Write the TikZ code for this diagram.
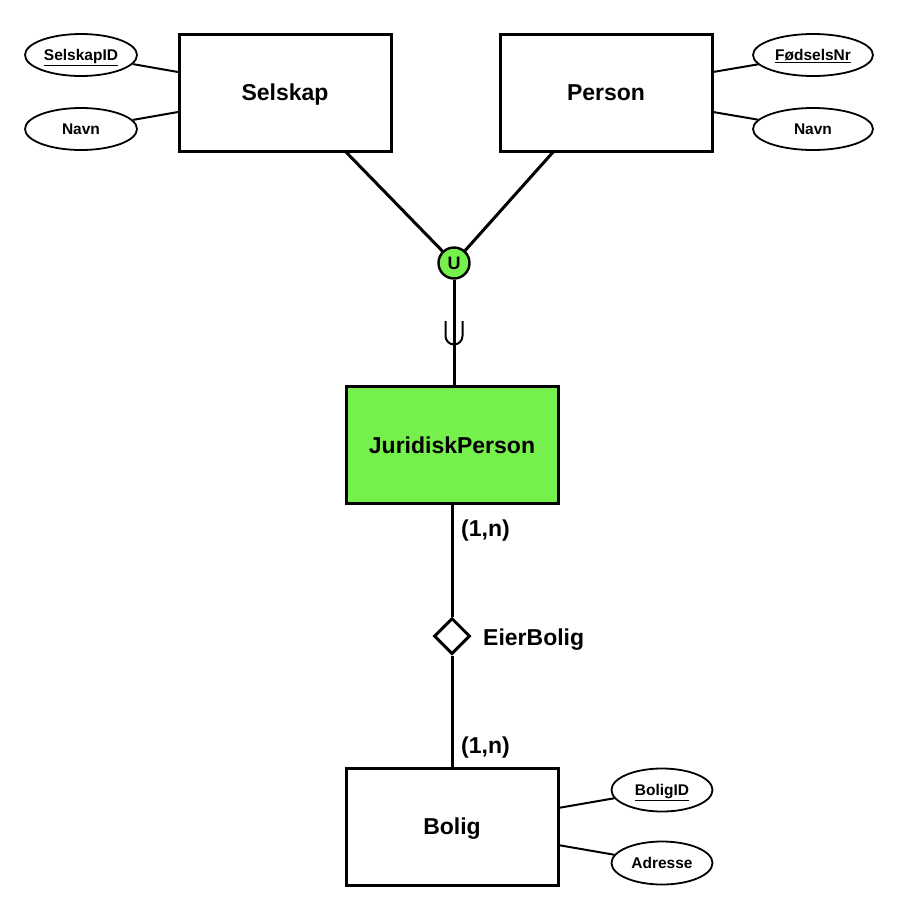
\documentclass[tikz,border=0pt]{standalone}
\usepackage{fontspec}
\setmainfont{Liberation Sans}
\usetikzlibrary{shapes.geometric}
\definecolor{erGreen}{RGB}{118,240,77}
\begin{document}
\begin{tikzpicture}[x=1pt,y=-1pt,
  entity/.style={draw,line width=3pt,minimum width=212pt,minimum height=117pt,inner sep=0pt,text height=16.5pt,text depth=0pt,font=\bfseries\fontsize{23}{27}\selectfont},
  attr/.style={draw,ellipse,line width=1.8pt,inner sep=0pt,text height=11.1pt,text depth=0pt,font=\bfseries\fontsize{15.5}{18}\selectfont},
  conn/.style={line width=3pt},
  aconn/.style={line width=2pt},
  lbl/.style={font=\bfseries\fontsize{23}{27}\selectfont,inner sep=0pt,text height=16.5pt,text depth=0pt}]
\useasboundingbox (0,0) rectangle (910,914);
\node[entity] (sel) at (285,92.5) {Selskap};
\node[entity] (per) at (606,92.5) {Person};
\node[entity,fill=erGreen] (jur) at (452,445) {JuridiskPerson};
\node[entity] (bol) at (452,826.5) {Bolig};
\node[attr,minimum width=112pt,minimum height=42pt] (sid) at (81,55) {\underline{SelskapID}};
\node[attr,minimum width=112pt,minimum height=42pt] (snavn) at (81,129) {Navn};
\node[attr,minimum width=120pt,minimum height=42pt] (fnr) at (813,55) {\underline{FødselsNr}};
\node[attr,minimum width=120pt,minimum height=42pt] (pnavn) at (813,129) {Navn};
\node[attr,minimum width=101pt,minimum height=43pt] (bid) at (662,790) {\underline{BoligID}};
\node[attr,minimum width=101pt,minimum height=43pt] (adr) at (662,863) {Adresse};
\node[draw,circle,fill=erGreen,line width=2.4pt,minimum size=31pt,inner sep=0pt,text height=12.9pt,text depth=0pt,font=\bfseries\fontsize{18}{20}\selectfont] (u) at (454,263) {U};
\node[draw,diamond,line width=3pt,minimum width=36pt,minimum height=36pt,inner sep=0pt,fill=white] (rel) at (452,636) {};
\coordinate (selA) at (178,72); \coordinate (selB) at (178,112);
\coordinate (perA) at (713,72); \coordinate (perB) at (713,112);
\coordinate (bolA) at (558,808); \coordinate (bolB) at (558,845);
\draw[aconn] (sid) -- (selA);
\draw[aconn] (snavn) -- (selB);
\draw[aconn] (fnr) -- (perA);
\draw[aconn] (pnavn) -- (perB);
\draw[aconn] (bid) -- (bolA);
\draw[aconn] (adr) -- (bolB);
\coordinate (selBot) at (345,151);
\coordinate (perBot) at (554,151);
\coordinate (jurTop) at (454,387);
\coordinate (jurBot) at (452,503);
\coordinate (bolTop) at (452,768);
\draw[conn] (selBot) -- (u);
\draw[conn] (perBot) -- (u);
\draw[conn] (u) -- (jurTop);
\draw[conn] (jurBot) -- (rel);
\draw[conn] (rel) -- (bolTop);
\draw[line width=2pt] (445.5,321) -- (445.5,336) arc[start angle=180,end angle=0,radius=8.5] -- (462.5,321);
\node[lbl,anchor=west] (c1) at (461,528) {(1,n)};
\node[lbl,anchor=west] (c2) at (461,745) {(1,n)};
\node[lbl,anchor=west] (rl) at (483,637) {EierBolig};
\end{tikzpicture}
\end{document}
